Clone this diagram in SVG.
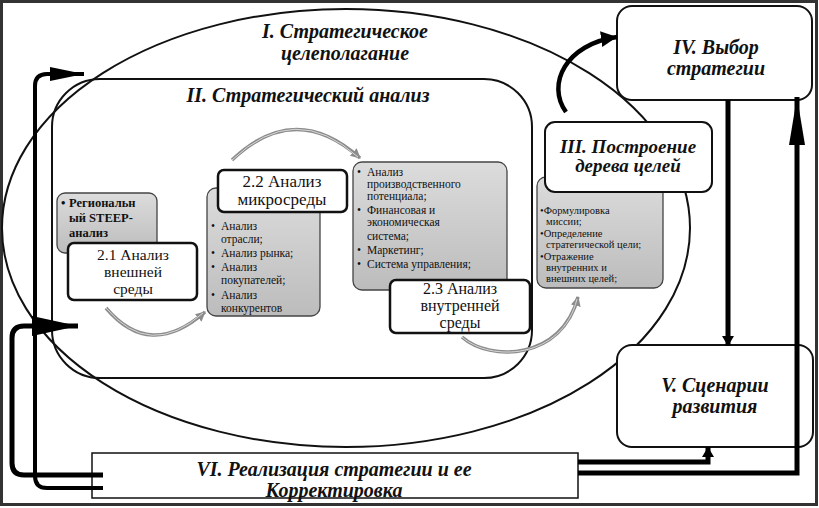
<svg xmlns="http://www.w3.org/2000/svg" width="819" height="508" viewBox="0 0 819 508">
<defs>
<linearGradient id="gray" x1="0" y1="0" x2="0" y2="1">
<stop offset="0" stop-color="#dcdcdc"/>
<stop offset="1" stop-color="#bcbcbc"/>
</linearGradient>
<marker id="ahGray" markerUnits="userSpaceOnUse" markerWidth="12" markerHeight="12" refX="9" refY="5" orient="auto">
<path d="M0,0 L10,5 L0,10 z" fill="#8c8c8c"/>
</marker>
<marker id="ahSmall" markerUnits="userSpaceOnUse" markerWidth="14" markerHeight="14" refX="10" refY="6" orient="auto">
<path d="M0,0 L10,6 L0,12 z" fill="#000"/>
</marker>
<marker id="ahMed" markerUnits="userSpaceOnUse" markerWidth="20" markerHeight="18" refX="16" refY="8" orient="auto">
<path d="M0,0 L16,8 L0,16 z" fill="#000"/>
</marker>
<marker id="ahLong" markerUnits="userSpaceOnUse" markerWidth="50" markerHeight="20" refX="48" refY="8" orient="auto">
<path d="M0,0 L48,8 L0,16 z" fill="#000"/>
</marker>
<marker id="ahLeftTop" markerUnits="userSpaceOnUse" markerWidth="36" markerHeight="16" refX="34" refY="7" orient="auto">
<path d="M0,0 L34,7 L0,14 z" fill="#000"/>
</marker>
<marker id="ahLeftBig" markerUnits="userSpaceOnUse" markerWidth="48" markerHeight="22" refX="46" refY="10" orient="auto">
<path d="M0,0 L46,10 L0,20 z" fill="#000"/>
</marker>
</defs>
<style>
.title{font-family:"Liberation Serif","DejaVu Serif",serif;font-weight:bold;font-style:italic;fill:#111;text-anchor:middle}
.sub{font-family:"Liberation Serif","DejaVu Serif",serif;fill:#111;text-anchor:middle}
.bul{font-family:"Liberation Serif","DejaVu Serif",serif;fill:#111}
.graybox{fill:url(#gray);stroke:#444;stroke-width:1.3}
.node{fill:#fff;stroke:#111;stroke-width:2.5}
.big{fill:#fff;stroke:#111;stroke-width:2}
.arc{fill:none;stroke:#8c8c8c;stroke-width:3.5}
.arcIn{fill:none;stroke:#d8d8d8;stroke-width:1}
.thick{fill:none;stroke:#000;stroke-width:5}
</style>
<rect x="0" y="0" width="819" height="508" fill="#fff"/>
<rect x="1.5" y="1.5" width="815" height="503" fill="none" stroke="#333" stroke-width="3"/>

<g id="node-I">
<ellipse cx="346" cy="228" rx="344" ry="219" fill="none" stroke="#111" stroke-width="2"/>
<text class="title" x="345" y="38" font-size="20">I. Стратегическое</text>
<text class="title" x="345" y="60" font-size="20">целеполагание</text>
</g>

<g id="node-II">
<rect x="52" y="79" width="480" height="299" rx="48" fill="none" stroke="#111" stroke-width="2"/>
<text class="title" x="308" y="102" font-size="20">II. Стратегический анализ</text>
</g>

<g id="node-2-1">
<rect class="graybox" x="57" y="193" width="100" height="60" rx="8"/>
<text class="bul" font-size="12.5" font-weight="bold"><tspan x="61" y="207">•</tspan><tspan x="69" y="207">Региональн</tspan><tspan x="69" y="222">ый STEEP-</tspan><tspan x="69" y="237">анализ</tspan></text>
<rect class="node" x="68" y="243" width="129" height="57" rx="6"/>
<text class="sub" font-size="15.5"><tspan x="133" y="260">2.1 Анализ</tspan><tspan x="133" y="277">внешней</tspan><tspan x="133" y="294">среды</tspan></text>
</g>

<g id="node-2-2">
<rect class="graybox" x="207" y="188" width="113" height="128" rx="9"/>
<text class="bul" font-size="11.5"><tspan x="211" y="230">•</tspan><tspan x="221" y="230">Анализ</tspan><tspan x="221" y="243">отрасли;</tspan><tspan x="211" y="257">•</tspan><tspan x="221" y="257">Анализ рынка;</tspan><tspan x="211" y="271">•</tspan><tspan x="221" y="271">Анализ</tspan><tspan x="221" y="284">покупателей;</tspan><tspan x="211" y="299">•</tspan><tspan x="221" y="299">Анализ</tspan><tspan x="221" y="312">конкурентов</tspan></text>
<rect class="node" x="218" y="170" width="129" height="42" rx="6"/>
<text class="sub" font-size="17"><tspan x="282" y="187">2.2 Анализ</tspan><tspan x="282" y="205">микросреды</tspan></text>
</g>

<g id="node-2-3">
<rect class="graybox" x="353" y="162" width="154" height="128" rx="9"/>
<text class="bul" font-size="11.5"><tspan x="357" y="176">•</tspan><tspan x="367" y="176">Анализ</tspan><tspan x="367" y="188">производственного</tspan><tspan x="367" y="200">потенциала;</tspan><tspan x="357" y="214">•</tspan><tspan x="367" y="214">Финансовая и</tspan><tspan x="367" y="226">экономическая</tspan><tspan x="367" y="240">система;</tspan><tspan x="357" y="254">•</tspan><tspan x="367" y="254">Маркетинг;</tspan><tspan x="357" y="268">•</tspan><tspan x="367" y="268">Система управления;</tspan></text>
<rect class="node" x="390" y="280" width="140" height="53" rx="6"/>
<text class="sub" font-size="16"><tspan x="460" y="294">2.3 Анализ</tspan><tspan x="460" y="311">внутренней</tspan><tspan x="460" y="328">среды</tspan></text>
</g>

<g id="node-III">
<rect class="graybox" x="537" y="177" width="126" height="111" rx="9"/>
<text class="bul" font-size="10.5"><tspan x="540" y="214">•Формулировка</tspan><tspan x="546" y="225">миссии;</tspan><tspan x="540" y="237">•Определение</tspan><tspan x="546" y="248">стратегической цели;</tspan><tspan x="540" y="260">•Отражение</tspan><tspan x="546" y="271">внутренних и</tspan><tspan x="546" y="282">внешних целей;</tspan></text>
<rect class="big" x="545" y="122" width="167" height="70" rx="10"/>
<text class="title" font-size="19"><tspan x="628" y="153">III. Построение</tspan><tspan x="628" y="172">дерева целей</tspan></text>
</g>

<g id="node-IV">
<rect class="big" x="617" y="6" width="195" height="94" rx="15"/>
<text class="title" font-size="20"><tspan x="716" y="54">IV. Выбор</tspan><tspan x="716" y="75">стратегии</tspan></text>
</g>

<g id="node-V">
<rect class="big" x="617" y="345" width="196" height="102" rx="15"/>
<text class="title" font-size="20"><tspan x="715" y="392">V. Сценарии</tspan><tspan x="715" y="413">развития</tspan></text>
</g>

<g id="node-VI">
<rect x="92" y="453" width="486" height="45" fill="#fff" stroke="#111" stroke-width="1.5"/>
<text class="title" font-size="20"><tspan x="334" y="476">VI. Реализация стратегии и ее</tspan><tspan x="334" y="497">Корректировка</tspan></text>
</g>

<g id="connectors">
<path class="arc" d="M106,308 Q150,360 205,312" marker-end="url(#ahGray)"/>
<path class="arcIn" d="M106,308 Q150,360 203,313"/>
<path class="arc" d="M232,160 Q295,100 360,158" marker-end="url(#ahGray)"/>
<path class="arcIn" d="M232,160 Q295,100 358,157"/>
<path class="arc" d="M462,337 C490,362 562,360 578,297" marker-end="url(#ahGray)"/>
<path class="arcIn" d="M462,337 C490,362 562,360 577,299"/>
<path d="M566,112 C546,84 566,44 617,37" fill="none" stroke="#000" stroke-width="4.5" marker-end="url(#ahMed)"/>
<path class="thick" d="M728,100 V346" marker-end="url(#ahSmall)"/>
<path class="thick" d="M578,473 H797 V97" marker-end="url(#ahLong)"/>
<path class="thick" d="M578,462 H708 V447" marker-end="url(#ahSmall)"/>
<path d="M103,488 H47 Q35,488 35,476 V86 Q35,74 47,74 H84" fill="none" stroke="#000" stroke-width="4" marker-end="url(#ahLeftTop)"/>
<path d="M103,475 H24 Q12,475 12,463 V338 Q12,326 24,326 H78" fill="none" stroke="#000" stroke-width="5" marker-end="url(#ahLeftBig)"/>
</g>
</svg>
